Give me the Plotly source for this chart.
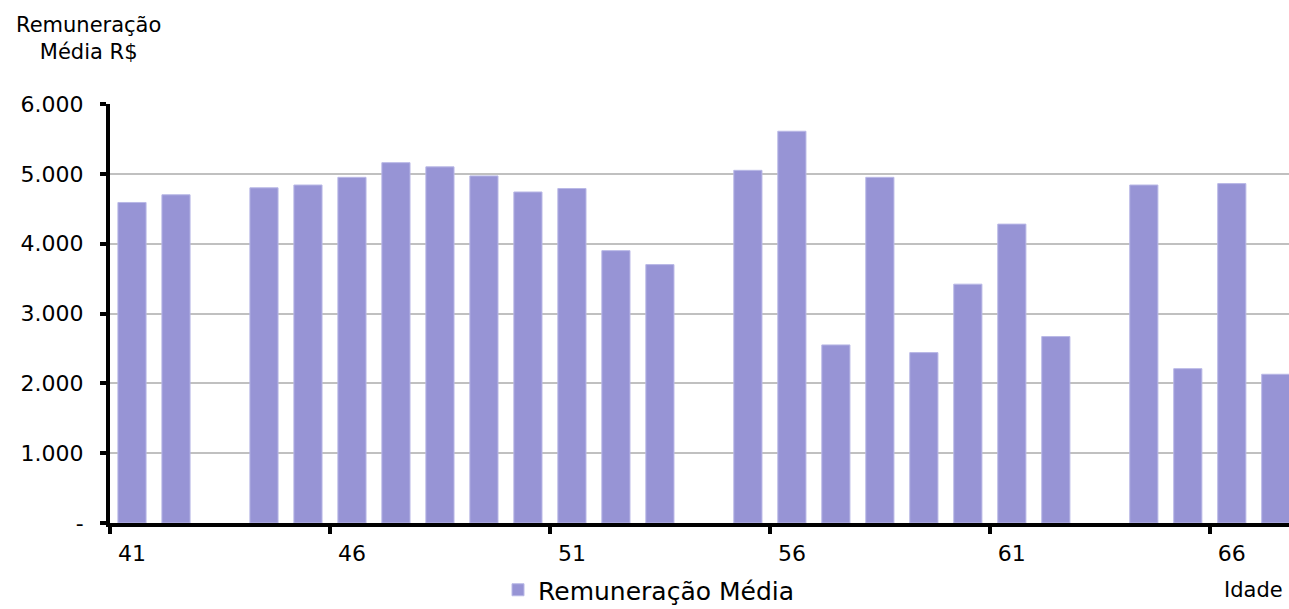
import plotly.graph_objects as go

idade = list(range(41, 68))
remuneracao = [4590, 4700, None, 4800, 4840, 4950, 5160, 5100, 4970, 4740,
               4790, 3900, 3700, None, 5050, 5610, 2550, 4950, 2440, 3420,
               4280, 2670, None, 4840, 2210, 4860, 2130]
y_ticks = [0, 1000, 2000, 3000, 4000, 5000, 6000]
y_labels = ["-", "1.000", "2.000", "3.000", "4.000", "5.000", "6.000"]
x_ticks = [41, 46, 51, 56, 61, 66]

W, H = 1289, 609
L, R, T, B = 110, 0, 104, 86
PW, PH = W - L - R, H - T - B
font = "DejaVu Sans, Verdana, sans-serif"

fig = go.Figure()
fig.add_trace(go.Bar(
    x=idade, y=remuneracao, name="Remuneração Média",
    marker=dict(color="#9794d5", line=dict(color="#b9b8e6", width=1)),
    showlegend=True,
))

fig.update_layout(
    width=W, height=H,
    margin=dict(l=L, r=R, t=T, b=B, pad=0, autoexpand=False),
    plot_bgcolor="white", paper_bgcolor="white",
    bargap=0.36,
    font=dict(family=font, size=22, color="black"),
    showlegend=True,
    legend=dict(orientation="h", x=(498 - L) / PW, xanchor="left",
                y=-(590 - (H - B)) / PH, yanchor="middle",
                font=dict(size=25), bgcolor="rgba(0,0,0,0)",
                tracegroupgap=0, borderwidth=0),
    xaxis=dict(
        range=[40.5, 67.3], tickmode="array", tickvals=x_ticks,
        ticktext=[str(v) for v in x_ticks], ticks="", ticklabelstandoff=8,
        showgrid=False, zeroline=False, showline=True, linecolor="black", linewidth=4,
        tickfont=dict(size=22), automargin=False,
        minor=dict(tickmode="array", tickvals=[40.5, 45.5, 50.5, 55.5, 60.5, 65.5],
                   ticks="outside", ticklen=7, tickwidth=4, tickcolor="black", showgrid=False),
    ),
    yaxis=dict(
        range=[0, 6000], tickmode="array", tickvals=y_ticks, ticktext=y_labels,
        ticks="outside", ticklen=6, tickwidth=4, tickcolor="black",
        showgrid=True, gridcolor="#c0c0c0", gridwidth=2,
        zeroline=False, showline=True, linecolor="black", linewidth=4,
        tickfont=dict(size=22), ticklabelstandoff=12, automargin=False,
    ),
    annotations=[
        dict(text="Remuneração<br>Média R$", xref="paper", yref="paper",
             x=(88 - L) / PW, y=1 + (T - 38) / PH, xanchor="center", yanchor="middle",
             align="center", showarrow=False, font=dict(size=21)),
        dict(text="Idade", xref="paper", yref="paper",
             x=(1253 - L) / PW, y=-(590 - (H - B)) / PH,
             xanchor="center", yanchor="middle", showarrow=False, font=dict(size=21)),
    ],
)

fig.write_html("out.html", config={"displayModeBar": False},
               post_script="document.body.style.margin='0';")
